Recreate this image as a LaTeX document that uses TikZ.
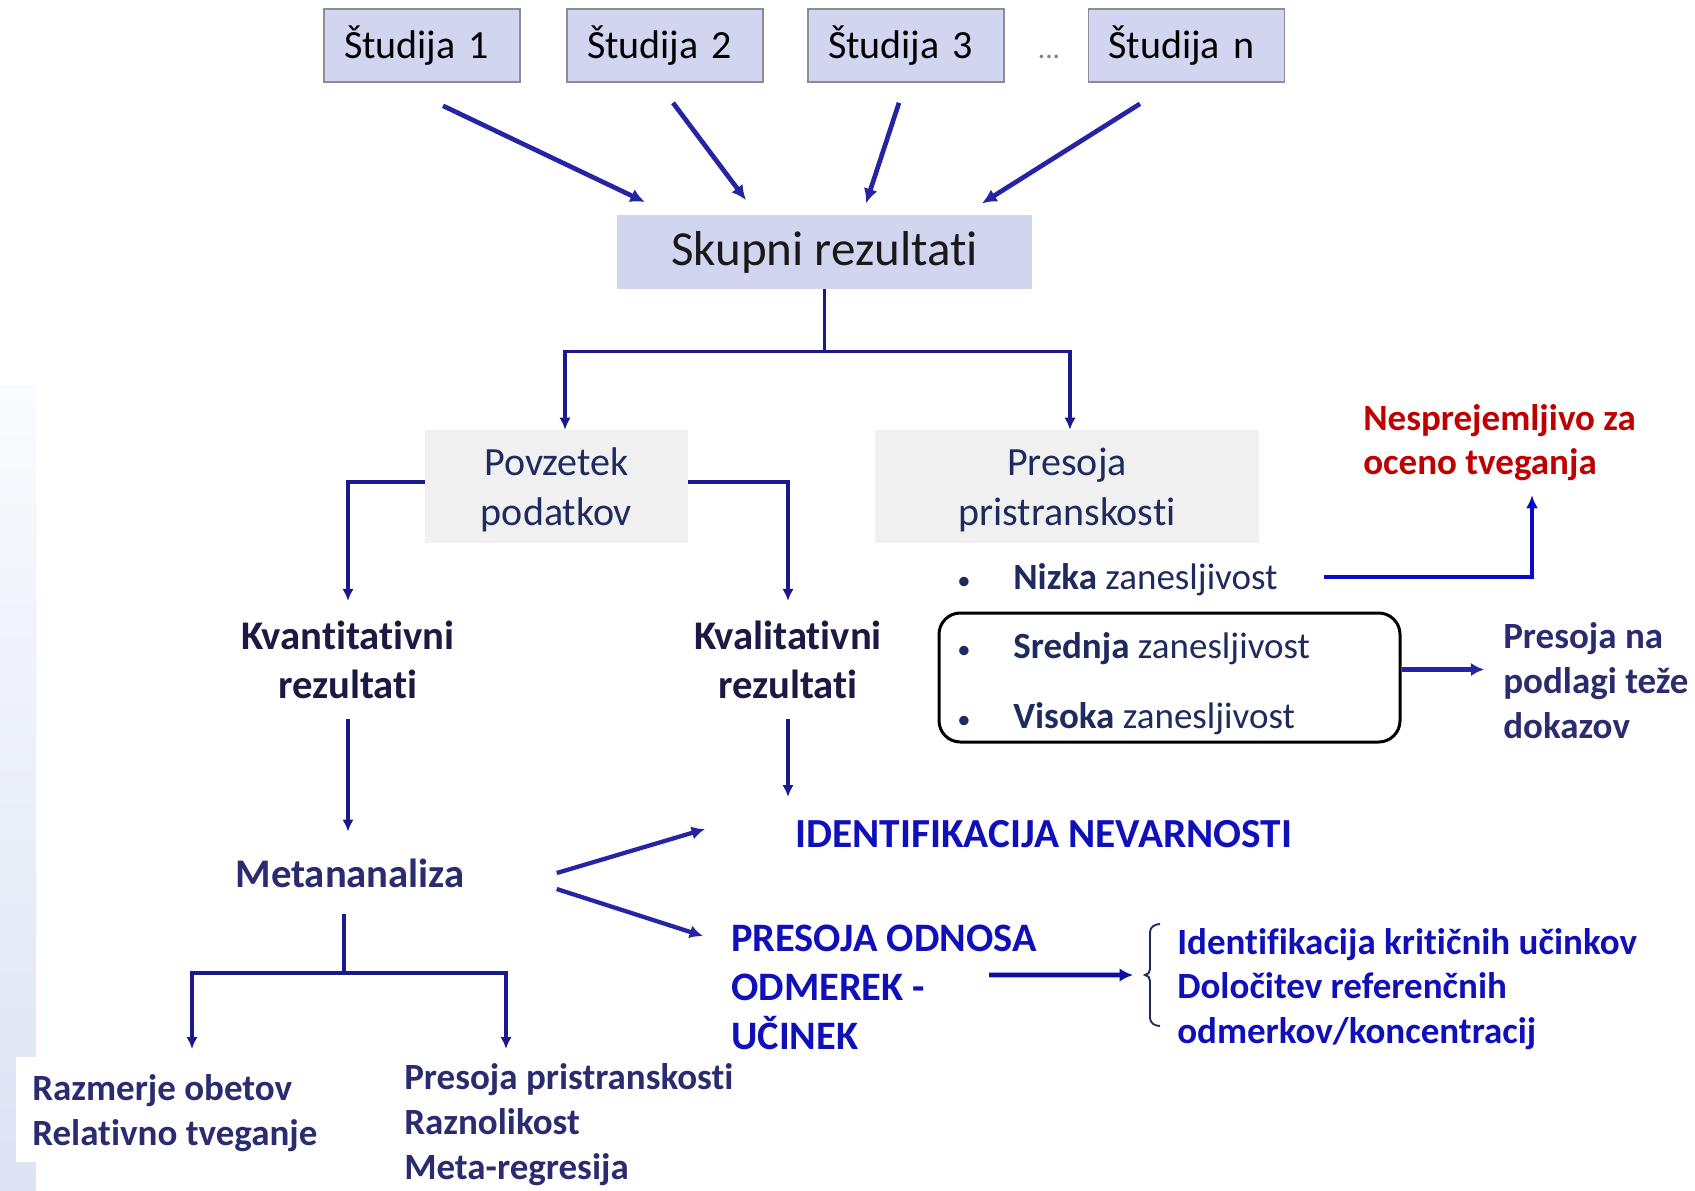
\documentclass[tikz,border=0pt]{standalone}
\usepackage{fontspec}
\setmainfont{Carlito}[Ligatures={NoCommon,NoContextual}, RawFeature={-liga;-clig;-calt;-dlig}]
\usetikzlibrary{arrows.meta,calc}

\definecolor{lavender}{HTML}{D2D5EF}
\definecolor{boxedge}{HTML}{8C8C98}
\definecolor{graybox}{HTML}{F0F0F0}
\definecolor{navy}{HTML}{1F2A5E}
\definecolor{darknavy}{HTML}{1A1A42}
\definecolor{purplenavy}{HTML}{2B2B70}
\definecolor{bright}{HTML}{1010BB}
\definecolor{redtxt}{HTML}{C00000}
\definecolor{treeblue}{HTML}{1A1A8C}
\definecolor{arrowblue}{HTML}{2424A4}
\definecolor{nizkablue}{HTML}{0A0AC8}
\definecolor{bandtop}{HTML}{FAFBFE}
\definecolor{bandbot}{HTML}{DCE3F3}

\newcommand\fbig{\fontsize{36.75}{44}\selectfont}
\newcommand\fmid{\fontsize{30}{37.5}\selectfont}
\newcommand\fmidb{\fontsize{30.5}{36.5}\selectfont\bfseries}
\newcommand\fsmall{\fontsize{27.75}{33.5}\selectfont\bfseries}
\newcommand\bulletmark{\makebox[42pt][l]{\fontsize{20}{20}\selectfont •}}

\begin{document}
\begin{tikzpicture}[x=0.75pt,y=-0.75pt,
  studybox/.style={draw=boxedge, line width=1.2pt, fill=lavender,
    minimum height=54.75pt, text width=117pt, inner xsep=15pt, inner ysep=0pt,
    align=left, font=\fmid, text=black},
  greybox/.style={fill=graybox, minimum height=84.75pt, inner sep=0pt,
    align=center, font=\fmid, text=navy},
  headtxt/.style={align=center, inner xsep=0pt, inner ysep=15pt, font=\fmidb, text=darknavy},
  subtxt/.style={anchor=west, align=left, inner sep=0pt, font=\fsmall, text=purplenavy},
  bluetxt/.style={anchor=west, align=left, inner sep=0pt, text=bright},
  bul/.style={anchor=west, inner sep=0pt, font=\fontsize{27.75}{33.5}\selectfont, text=navy},
  studyarrow/.style={draw=arrowblue, line width=3.5pt, -{Latex[length=11pt,width=10.5pt]}},
  treeline/.style={draw=treeblue, line width=2.6pt},
  treearrow/.style={treeline, -{Latex[length=9pt,width=8.5pt]}},
  fatarrow/.style={draw=arrowblue, line width=3.2pt, -{Latex[length=10pt,width=10pt]}},
  bracket/.style={draw=navy, line width=1.4pt}
]
\useasboundingbox[fill=white] (0,0) rectangle (1695,1190);

% soft band along the left margin
\shade[top color=bandtop, bottom color=bandbot] (0,385) rectangle (36,1190);
\fill[white] (16,1057) rectangle (324,1162);

% studies
\node[studybox] (s1) at (422,45.5) {Študija 1};
\node[studybox] (s2) at (665,45.5) {Študija 2};
\node[studybox] (s3) at (906,45.5) {Študija 3};
\node[studybox] (s4) at (1186.5,45.5) {Študija n};
\node[inner sep=0pt, font=\fontsize{22}{26}\selectfont, text=gray] (dots) at (1049,57) {...};

% pooled results
\node[fill=lavender, minimum width=311.25pt, minimum height=55.5pt, inner sep=0pt,
      font=\fbig, text=black!90] (sk) at (824.5,252) {Skupni rezultati};

\draw[studyarrow] ([shift={(15.75pt,-17.25pt)}]s1.south) -- ([shift={(-134.6pt,9.5pt)}]sk.north);
\draw[studyarrow] ([shift={(6pt,-15pt)}]s2.south) -- ([shift={(-58.9pt,11pt)}]sk.north);
\draw[studyarrow] ([shift={(-5.25pt,-15pt)}]s3.south) -- ([shift={(31.1pt,8.5pt)}]sk.north);
\draw[studyarrow] ([shift={(-34.9pt,-15.75pt)}]s4.south) -- ([shift={(118.1pt,8.5pt)}]sk.north);

% second level
\node[greybox, minimum width=197.25pt] (pov) at (556.5,486.5) {\rule{0pt}{26pt}Povzetek\\podatkov};
\node[greybox, minimum width=288pt] (pres) at (1067,486.5) {\rule{0pt}{26pt}Presoja\\pristranskosti};

\draw[treeline] (sk.south) -- ++(0,62) coordinate (skj);
\draw[treearrow] (skj) -| ([xshift=6.4pt]pov.north);
\draw[treearrow] (skj) -| ([xshift=2.25pt]pres.north);

% data summary branches
\node[headtxt] (kvant) at (348,660) {Kvantitativni\\rezultati};
\node[headtxt] (kvalit) at (788,660) {Kvalitativni\\rezultati};
\draw[treearrow] ([yshift=3.4pt]pov.west) -| (kvant.north);
\draw[treearrow] ([yshift=3.4pt]pov.east) -| (kvalit.north);

\node[headtxt, text=purplenavy, inner ysep=20pt] (metan) at (350,873) {Metananaliza};
\draw[treearrow] (kvant.south) -- (kvant.south |- metan.north);
\coordinate (kvend) at (788,797);
\draw[treearrow] (kvalit.south) -- (kvend);

% meta-analysis outputs
\node[subtxt] (razm) at (32,1113) {Razmerje obetov\\Relativno tveganje};
\node[subtxt, font=\fontsize{27.75}{33.75}\selectfont\bfseries] (hetero) at (404,1125)
  {Presoja pristranskosti\\Raznolikost\\Meta-regresija};
\coordinate (mj) at (344,973);
\coordinate (ra) at (192,1049);
\coordinate (rb) at (506,1049);
\draw[treeline] (mj |- metan.south) -- (mj);
\draw[treearrow] (mj) -| (ra);
\draw[treearrow] (mj) -| (rb);

% hazard identification and dose-response
\node[bluetxt, font=\fontsize{31}{36.5}\selectfont\bfseries] (ident) at (795,834) {IDENTIFIKACIJA NEVARNOSTI};
\node[bluetxt, font=\fontsize{30.3}{36.75}\selectfont\bfseries] (odnos) at (731,987.5)
  {PRESOJA ODNOSA\\ODMEREK -\\UČINEK};
\draw[fatarrow] ([xshift=69pt]metan.east) -- ([shift={(-67.5pt,3.75pt)}]ident.west);
\draw[fatarrow] ([shift={(69pt,-12pt)}]metan.east) -- ([shift={(-21pt,38.6pt)}]odnos.west);

\node[bluetxt, font=\fsmall] (krit) at (1177,989)
  {Identifikacija kritičnih učinkov\\Določitev referenčnih\\odmerkov/koncentracij};
\coordinate (brk) at (1145,975);
\draw[bracket] (brk) ++(15,-51) to[out=180,in=90] ++(-10,8) -- ++(0,37)
  to[out=-90,in=0] ++(-5,6) to[out=0,in=90] ++(5,6) -- ++(0,37)
  to[out=-90,in=180] ++(10,8);
\draw[draw=bright!85!black, line width=3.5pt, -{Latex[length=10pt,width=10pt]}]
  ([shift={(193.5pt,9.4pt)}]odnos.west) -- ([xshift=-9pt]brk);

% reliability of evidence
\node[bul] (nizka) at (957,579.5) {\bulletmark\textbf{Nizka} zanesljivost};
\node[bul] (sred) at (957,648.5) {\bulletmark\textbf{Srednja} zanesljivost};
\node[bul] (vis) at (957,718.5) {\bulletmark\textbf{Visoka} zanesljivost};
\node[draw=black, line width=2.25pt, rounded corners=16pt, minimum width=345.75pt,
      minimum height=96.75pt, inner sep=0pt] (relbox) at (1169.5,677.5) {};

\node[subtxt, text=redtxt, font=\fontsize{27.75}{33}\selectfont\bfseries] (nespr) at (1363,442.5)
  {Nesprejemljivo za\\oceno tveganja};
\coordinate (nesend) at (1532,495);
\draw[draw=nizkablue, line width=3.4pt, -{Latex[length=10pt,width=9pt]}]
  ([shift={(34.5pt,1.9pt)}]nizka.east) -| (nesend);

\node[subtxt, font=\fontsize{27.75}{33.5}\selectfont\bfseries] (presna) at (1503,680.5)
  {Presoja na\\podlagi teže\\dokazov};
\draw[fatarrow] ([yshift=6pt]relbox.east) -- ++(62pt,0);
\end{tikzpicture}
\end{document}
